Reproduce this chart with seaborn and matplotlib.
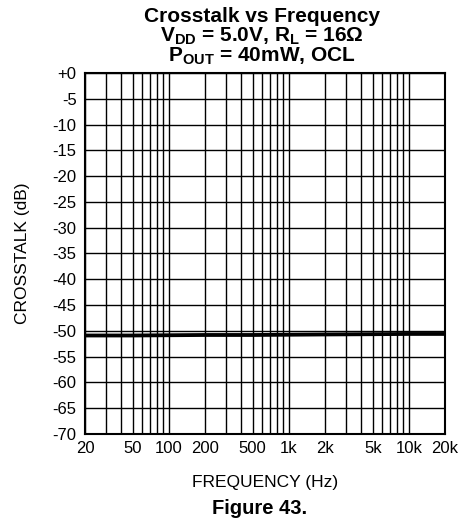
import numpy as np
import pandas as pd
import seaborn as sns
import matplotlib
matplotlib.use('Agg')
import matplotlib.pyplot as plt
from matplotlib.ticker import FixedLocator, NullFormatter

# Data (two channels, nearly overlapping)
freq_hz = [20, 50, 100, 200, 500, 1000, 2000, 5000, 10000, 20000]
ch_a_db = [-51.0, -51.0, -50.95, -50.9, -50.9, -50.85, -50.8, -50.75, -50.7, -50.7]
ch_b_db = [-50.8, -50.8, -50.75, -50.7, -50.7, -50.65, -50.6, -50.55, -50.5, -50.5]

x_ticks = [20, 50, 100, 200, 500, 1000, 2000, 5000, 10000, 20000]
x_tick_labels = ['20', '50', '100', '200', '500', '1k', '2k', '5k', '10k', '20k']
y_ticks = list(range(0, -75, -5))
y_tick_labels = ['+0'] + [str(v) for v in y_ticks[1:]]

df = pd.DataFrame({
    'freq': freq_hz * 2,
    'crosstalk': ch_a_db + ch_b_db,
    'channel': ['A'] * len(freq_hz) + ['B'] * len(freq_hz),
})

sns.set_style('white')
plt.rcParams['font.family'] = ['Liberation Sans', 'DejaVu Sans']
plt.rcParams['text.color'] = 'black'
plt.rcParams['axes.labelcolor'] = 'black'
plt.rcParams['mathtext.fontset'] = 'custom'
plt.rcParams['mathtext.rm'] = 'Liberation Sans:bold'
plt.rcParams['mathtext.it'] = 'Liberation Sans:bold'
plt.rcParams['mathtext.bf'] = 'Liberation Sans:bold'

fig = plt.figure(figsize=(4.58, 5.29), dpi=100)
ax = fig.add_axes([0.1856, 0.1796, 0.786, 0.6824])

sns.lineplot(data=df, x='freq', y='crosstalk', units='channel', estimator=None,
             color='black', linewidth=2.0, ax=ax, legend=False)

ax.set_xscale('log')
ax.set_xlim(20, 20000)
ax.set_ylim(-70, 0)

# grid lines at every 1-9 step of each decade
minor = [m * 10 ** d for d in range(1, 5) for m in range(1, 10) if 20 <= m * 10 ** d <= 20000]
ax.xaxis.set_major_locator(FixedLocator(x_ticks))
ax.set_xticklabels(x_tick_labels)
ax.xaxis.set_minor_locator(FixedLocator(minor))
ax.xaxis.set_minor_formatter(NullFormatter())
ax.set_yticks(y_ticks)
ax.set_yticklabels(y_tick_labels)

ax.grid(True, which='both', axis='x', color='black', linewidth=1.0)
ax.grid(True, which='major', axis='y', color='black', linewidth=1.0)
ax.tick_params(which='both', length=0, labelsize=12, colors='black')
ax.tick_params(axis='y', pad=6)
ax.tick_params(axis='x', pad=5)

for s in ax.spines.values():
    s.set_color('black')
    s.set_linewidth(1.5)

ax.set_xlabel('FREQUENCY (Hz)', fontsize=12.5, labelpad=14)
ax.set_ylabel('CROSSTALK (dB)', fontsize=12.5, labelpad=16)

fig.text(0.572, 1 - 22 / 529, 'Crosstalk vs Frequency', ha='center', va='baseline',
         fontsize=15, fontweight='bold')
fig.text(0.572, 1 - 42 / 529, 'V$_{DD}$ = 5.0V, R$_{L}$ = 16Ω', ha='center', va='baseline',
         fontsize=15, fontweight='bold')
fig.text(0.572, 1 - 62 / 529, 'P$_{OUT}$ = 40mW, OCL', ha='center', va='baseline',
         fontsize=15, fontweight='bold')
fig.text(0.567, 1 - 508 / 529, 'Figure 43.', ha='center', va='center',
         fontsize=14.5, fontweight='bold')

fig.savefig('out.png', dpi=100)
